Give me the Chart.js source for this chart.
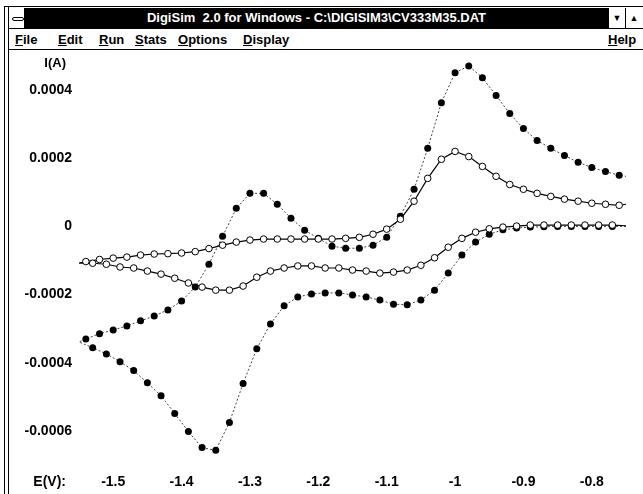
<!DOCTYPE html>
<html>
<head>
<meta charset="utf-8">
<script src="https://cdn.jsdelivr.net/npm/chart.js@4.4.1/dist/chart.umd.min.js"></script>
<style>
  html, body { margin: 0; padding: 0; background: #fff; }
  body { width: 643px; height: 494px; position: relative; overflow: hidden;
         font-family: "Liberation Sans", Arial, sans-serif; }
  .abs { position: absolute; }
  .vline { position: absolute; width: 1px; background: #000; }
  .hline { position: absolute; height: 1px; background: #000; }
  #title { left: 25px; top: 8px; width: 583px; height: 20px; background: #000; color: #fff;
           font-weight: bold; font-size: 13px; line-height: 20px; text-align: center; white-space: pre; }
  #sysbox { left: 9px; top: 8px; width: 15px; height: 20px; background: #fff; border-right: 1px solid #000; }
  #sysbox div { position: absolute; left: 3px; top: 9px; width: 10px; height: 2px; border: 1px solid #000; border-radius: 2px; }
  .arrow { top: 8px; width: 16px; height: 20px; background: #fff; border-left: 1px solid #000;
           font-size: 9px; line-height: 20px; text-align: center; }
  .menu { top: 32px; font-size: 13px; font-weight: bold; line-height: 16px; }
  .menu u { text-decoration: underline; }
  #wrap { left: 9px; top: 51px; width: 634px; height: 443px; }
</style>
</head>
<body>
<div class="hline" style="left:4px; top:6px; width:639px;"></div>
<div class="vline" style="left:4px; top:6px; height:488px;"></div>
<div class="vline" style="left:8px; top:6px; height:488px;"></div>
<div id="sysbox" class="abs"><div></div></div>
<div id="title" class="abs">DigiSim  2.0 for Windows - C:\DIGISIM3\CV333M35.DAT</div>
<div class="abs arrow" style="left:608px;">&#9660;</div>
<div class="abs arrow" style="left:625px;">&#9650;</div>
<div class="hline" style="left:8px; top:28px; width:635px;"></div>
<div class="abs menu" style="left:15px;"><u>F</u>ile</div>
<div class="abs menu" style="left:58px;"><u>E</u>dit</div>
<div class="abs menu" style="left:99px;"><u>R</u>un</div>
<div class="abs menu" style="left:135px;"><u>S</u>tats</div>
<div class="abs menu" style="left:178px;"><u>O</u>ptions</div>
<div class="abs menu" style="left:243px;"><u>D</u>isplay</div>
<div class="abs menu" style="left:608px;"><u>H</u>elp</div>
<div class="hline" style="left:8px; top:49px; width:635px;"></div>
<div id="wrap" class="abs"><canvas id="cv"></canvas></div>

<script>
// potentials (V): forward sweep and reverse sweep
const fwdE = [-0.75, -0.77, -0.79, -0.81, -0.83, -0.85, -0.87, -0.89, -0.91, -0.93,
              -0.95, -0.97, -0.99, -1.01, -1.03, -1.05, -1.07, -1.09, -1.11, -1.13,
              -1.15, -1.17, -1.19, -1.21, -1.23, -1.25, -1.27, -1.29, -1.31, -1.33,
              -1.35, -1.37, -1.39, -1.41, -1.43, -1.45, -1.47, -1.49, -1.51, -1.53, -1.55];
const revE = [-1.54, -1.52, -1.50, -1.48, -1.46, -1.44, -1.42, -1.40, -1.38, -1.36,
              -1.34, -1.32, -1.30, -1.28, -1.26, -1.24, -1.22, -1.20, -1.18, -1.16,
              -1.14, -1.12, -1.10, -1.08, -1.06, -1.04, -1.02, -1.00, -0.98, -0.96,
              -0.94, -0.92, -0.90, -0.88, -0.86, -0.84, -0.82, -0.80, -0.78, -0.76, -0.75];

// currents (A), filled-marker CV (dotted line)
const filledFwd = [0, 0, 0, 0, 0, 0, -0.01e-4, -0.02e-4, -0.05e-4, -0.10e-4,
                   -0.23e-4, -0.46e-4, -0.84e-4, -1.37e-4, -1.87e-4, -2.16e-4, -2.30e-4, -2.28e-4, -2.16e-4, -2.07e-4,
                   -2.01e-4, -1.95e-4, -1.95e-4, -1.98e-4, -2.07e-4, -2.33e-4, -2.86e-4, -3.59e-4, -4.61e-4, -5.75e-4,
                   -6.57e-4, -6.49e-4, -6.02e-4, -5.49e-4, -4.97e-4, -4.59e-4, -4.23e-4, -3.97e-4, -3.74e-4, -3.56e-4, -3.39e-4];
const filledRev = [-3.30e-4, -3.15e-4, -3.04e-4, -2.92e-4, -2.77e-4, -2.63e-4, -2.45e-4, -2.19e-4, -1.78e-4, -1.11e-4,
                   -0.29e-4, 0.53e-4, 0.97e-4, 0.97e-4, 0.65e-4, 0.24e-4, -0.11e-4, -0.35e-4, -0.58e-4, -0.64e-4,
                   -0.64e-4, -0.55e-4, -0.32e-4, 0.30e-4, 1.09e-4, 2.29e-4, 3.63e-4, 4.51e-4, 4.71e-4, 4.36e-4,
                   3.84e-4, 3.31e-4, 2.87e-4, 2.52e-4, 2.29e-4, 2.08e-4, 1.88e-4, 1.73e-4, 1.61e-4, 1.50e-4, 1.47e-4];

// currents (A), open-marker CV (solid line)
const openFwd = [0.02e-4, 0.04e-4, 0.04e-4, 0.04e-4, 0.04e-4, 0.04e-4, 0.04e-4, 0.04e-4, 0.01e-4, -0.02e-4,
                 -0.07e-4, -0.17e-4, -0.35e-4, -0.61e-4, -0.92e-4, -1.14e-4, -1.28e-4, -1.34e-4, -1.37e-4, -1.31e-4,
                 -1.28e-4, -1.22e-4, -1.22e-4, -1.16e-4, -1.16e-4, -1.22e-4, -1.31e-4, -1.49e-4, -1.75e-4, -1.87e-4,
                 -1.87e-4, -1.78e-4, -1.66e-4, -1.52e-4, -1.40e-4, -1.31e-4, -1.22e-4, -1.19e-4, -1.11e-4, -1.08e-4, -1.08e-4];
const openRev = [-1.03e-4, -0.97e-4, -0.93e-4, -0.90e-4, -0.84e-4, -0.81e-4, -0.80e-4, -0.78e-4, -0.74e-4, -0.65e-4,
                 -0.55e-4, -0.46e-4, -0.40e-4, -0.37e-4, -0.37e-4, -0.37e-4, -0.37e-4, -0.37e-4, -0.37e-4, -0.35e-4,
                 -0.32e-4, -0.23e-4, -0.08e-4, 0.21e-4, 0.74e-4, 1.41e-4, 1.97e-4, 2.20e-4, 2.05e-4, 1.76e-4,
                 1.47e-4, 1.23e-4, 1.09e-4, 0.97e-4, 0.88e-4, 0.80e-4, 0.74e-4, 0.68e-4, 0.65e-4, 0.62e-4, 0.65e-4];

const xTicks = [-1.5, -1.4, -1.3, -1.2, -1.1, -1, -0.9, -0.8];
const xTickLabels = ['-1.5', '-1.4', '-1.3', '-1.2', '-1.1', '-1', '-0.9', '-0.8'];
const yTicks = [0.0004, 0.0002, 0, -0.0002, -0.0004, -0.0006];
const yTickLabels = ['0.0004', '0.0002', '0', '-0.0002', '-0.0004', '-0.0006'];

const pts = (es, vs) => es.map((e, i) => ({ x: e, y: vs[i] }));

// the loop line runs through both sweeps, markers skip the sweep ends
const loop = (f, r) => pts(fwdE, f).concat(pts(revE, r));
const marks = (f, r) => pts(fwdE, f).slice(1, 40).concat(pts(revE, r).slice(0, 40));

const FONT = '"Liberation Sans", Arial, sans-serif';

// axis captions
const captions = {
  id: 'captions',
  afterDraw(chart) {
    const ctx = chart.ctx;
    ctx.save();
    ctx.fillStyle = '#000';
    ctx.font = 'bold 13px ' + FONT;
    ctx.textAlign = 'right';
    ctx.textBaseline = 'middle';
    ctx.fillText('I(A)', 57, 12);
    ctx.font = 'bold 14px ' + FONT;
    ctx.fillText('E(V):', 57, 431);
    ctx.restore();
  }
};

new Chart(document.getElementById('cv'), {
  type: 'scatter',
  data: {
    datasets: [
      { data: marks(openFwd, openRev), pointRadius: 3.3, pointBackgroundColor: '#fff',
        pointBorderColor: '#000', pointBorderWidth: 1, order: 0 },
      { data: loop(openFwd, openRev), showLine: true, borderColor: '#000', borderWidth: 1.2,
        pointRadius: 0, order: 1 },
      { data: marks(filledFwd, filledRev), pointRadius: 3.5, pointBackgroundColor: '#000',
        pointBorderColor: '#000', pointBorderWidth: 0, order: 2 },
      { data: loop(filledFwd, filledRev), showLine: true, borderColor: '#444', borderWidth: 1,
        borderDash: [2, 2], pointRadius: 0, order: 3 }
    ]
  },
  options: {
    responsive: true,
    maintainAspectRatio: false,
    animation: false,
    layout: { padding: { top: 3, right: 17, left: 0, bottom: 0 } },
    plugins: { legend: { display: false }, tooltip: { enabled: false } },
    scales: {
      x: {
        type: 'linear', min: -1.55, max: -0.75,
        border: { display: false },
        grid: { display: false, drawTicks: false },
        afterBuildTicks: s => { s.ticks = xTicks.map(v => ({ value: v })); },
        afterFit: s => { s.height = 29; s.paddingLeft = 0; s.paddingRight = 0; },
        ticks: {
          padding: 9, color: '#000', maxRotation: 0, autoSkip: false,
          font: { family: FONT, size: 14, weight: 'bold' },
          callback: (v) => xTickLabels[xTicks.indexOf(v)]
        }
      },
      y: {
        type: 'linear', min: -0.0007, max: 0.0005,
        border: { display: false },
        grid: { display: false, drawTicks: false },
        afterBuildTicks: s => { s.ticks = yTicks.map(v => ({ value: v })); },
        afterFit: s => { s.width = 70; s.paddingTop = 0; s.paddingBottom = 0; },
        ticks: {
          padding: 7, color: '#000', autoSkip: false,
          font: { family: FONT, size: 14, weight: 'bold' },
          callback: (v) => yTickLabels[yTicks.indexOf(v)]
        }
      }
    }
  },
  plugins: [captions]
});
</script>
</body>
</html>
